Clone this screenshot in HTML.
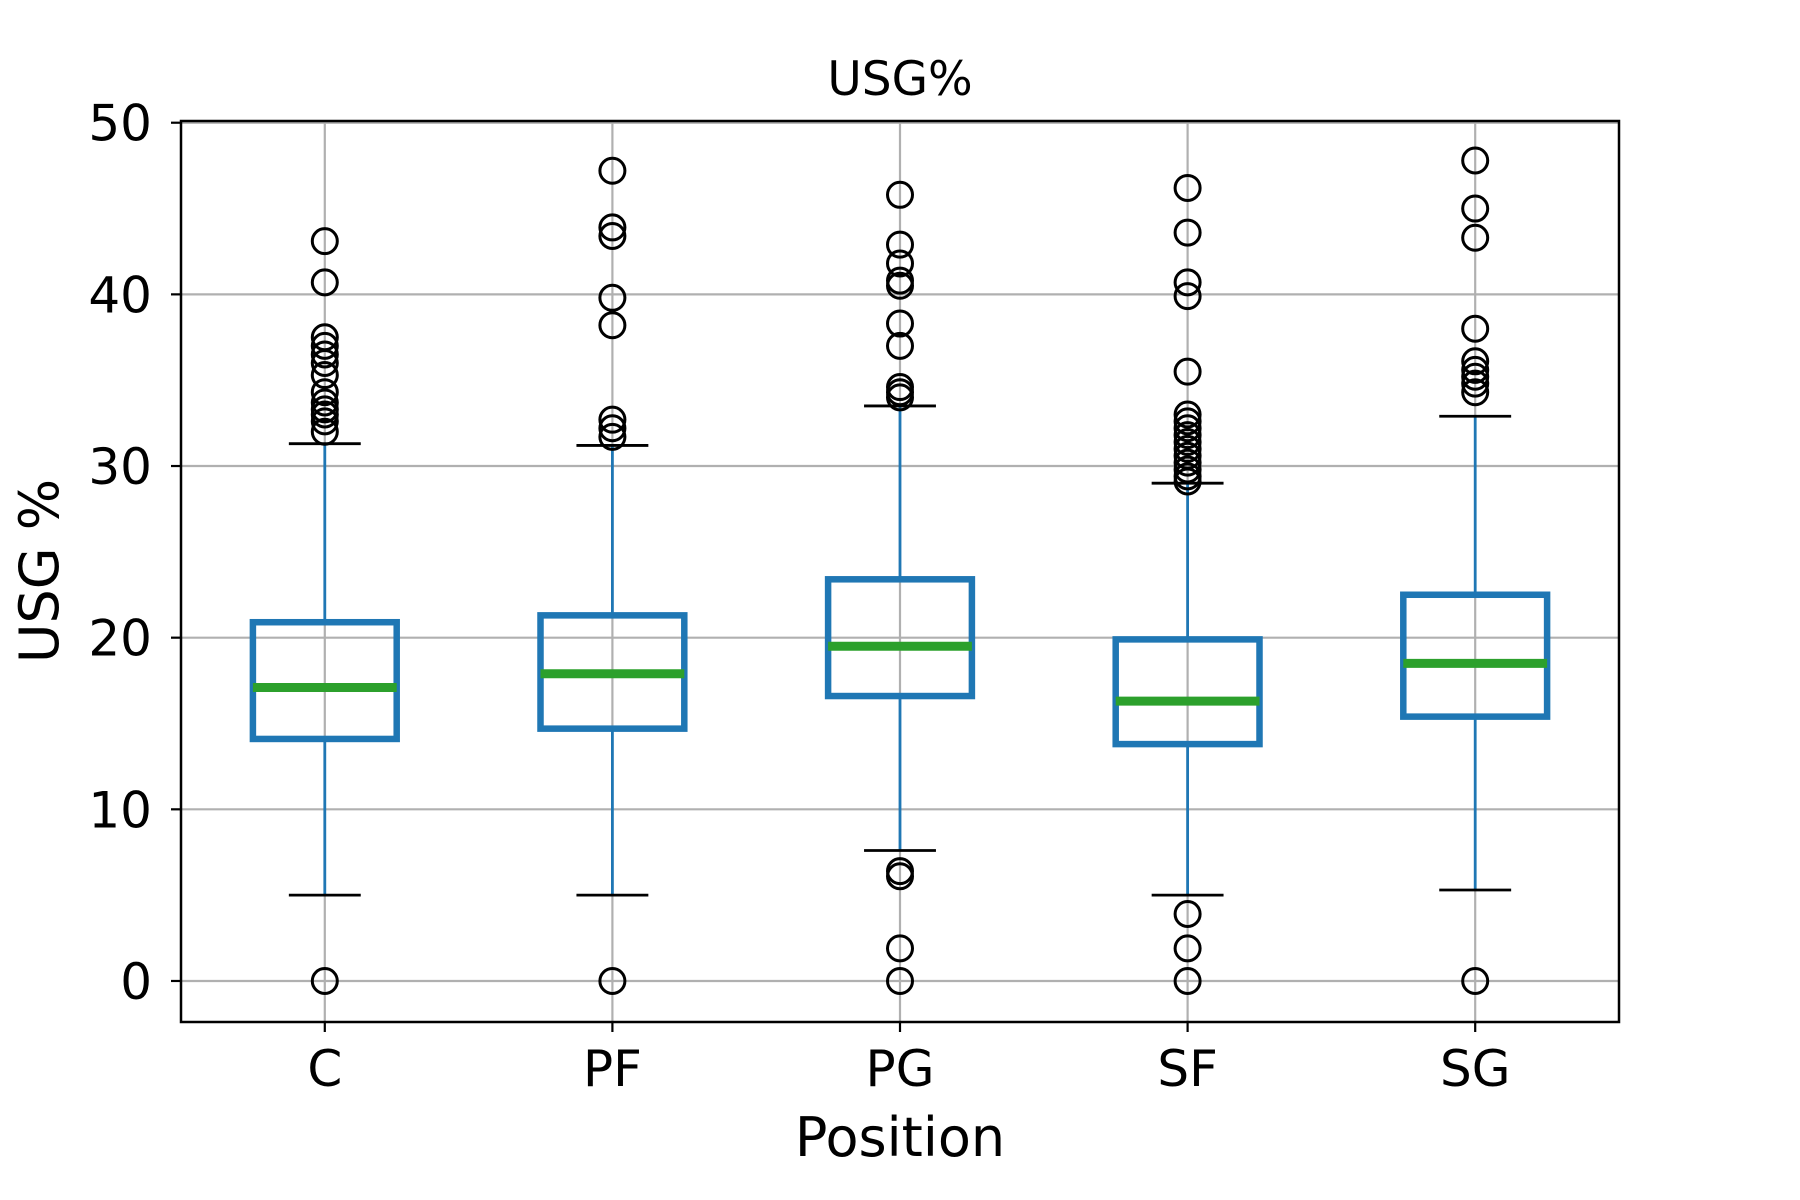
<!DOCTYPE html>
<html><head><meta charset="utf-8"><style>
html,body{margin:0;padding:0;background:#fff;}
svg{display:block;font-family:"DejaVu Sans","Liberation Sans",sans-serif;}
</style></head><body>
<svg id="chart" width="1800" height="1200" viewBox="0 0 1800 1200" xmlns="http://www.w3.org/2000/svg">
<rect width="1800" height="1200" fill="#fff"/>
<g id="grid"></g>
<g id="boxes"></g>
<g id="axes"></g>
<text x="900" y="95" font-size="47" text-anchor="middle">USG%</text>
<text x="900" y="1156" font-size="54" text-anchor="middle">Position</text>
<text transform="translate(58,571) rotate(-90)" font-size="54" text-anchor="middle">USG %</text>
</svg>
<script>
const categories = ["C","PF","PG","SF","SG"];
const q1Values = [14.1,14.7,16.6,13.8,15.4];
const medianValues = [17.1,17.9,19.5,16.3,18.5];
const q3Values = [20.9,21.3,23.4,19.9,22.5];
const whiskerLow = [5.0,5.0,7.6,5.0,5.3];
const whiskerHigh = [31.3,31.2,33.5,29.0,32.9];
const outliersC = [0,43.1,40.7,37.5,37.0,36.5,36.0,35.3,34.3,33.7,33.3,33.0,32.6,32.0];
const outliersPF = [0,47.2,43.9,43.4,39.8,38.2,32.7,32.2,31.7];
const outliersPG = [45.8,42.9,41.8,40.8,40.5,38.3,37.0,34.6,34.3,34.0,6.4,6.1,1.9,0];
const outliersSF = [46.2,43.6,40.7,39.9,35.5,33.0,32.6,32.2,31.8,31.4,31.0,30.6,30.2,29.8,29.4,29.1,3.9,1.9,0];
const outliersSG = [47.8,45.0,43.3,38.0,36.1,35.6,35.2,34.8,34.3,0];
const yTicks = [0,10,20,30,40,50];

const outliers = [outliersC,outliersPF,outliersPG,outliersSF,outliersSG];
const L=181,R=1619,T=121,B=1022;
const yMin=-2.39,yMax=50.1;
const NS="http://www.w3.org/2000/svg";
function xs(i){return L+(R-L)*((i+1)-0.5)/categories.length;}
function ys(v){return B-(B-T)*(v-yMin)/(yMax-yMin);}
function mk(tag,attrs,parent){const e=document.createElementNS(NS,tag);for(const k in attrs)e.setAttribute(k,attrs[k]);parent.appendChild(e);return e;}
const grid=document.getElementById('grid'),boxes=document.getElementById('boxes'),axes=document.getElementById('axes');
const step=(R-L)/categories.length;
yTicks.forEach(t=>{
  const y=ys(t);
  const g=mk('line',{x1:L,x2:R,y1:y,y2:y,stroke:'#b0b0b0','stroke-width':2.2},grid);
  
  
  const tk=mk('line',{x1:L-10,x2:L,y1:y,y2:y,stroke:'#000','stroke-width':2.2},axes);
  
  
  const tx=mk('text',{x:L-29,y:y+18,'font-size':50,'text-anchor':'end'},axes);
  tx.textContent=t;
  
  
});
categories.forEach((c,i)=>{
  const x=xs(i);
  const g=mk('line',{x1:x,x2:x,y1:T,y2:B,stroke:'#b0b0b0','stroke-width':2.2},grid);
  
  
  const tk=mk('line',{x1:x,x2:x,y1:B,y2:B+10,stroke:'#000','stroke-width':2.2},axes);
  
  
  const tx=mk('text',{x:x,y:B+64,'font-size':50,'text-anchor':'middle'},axes);
  tx.textContent=c;
  
  

  const grp=mk('g',{},boxes);
  
  
  const bw=step*0.25, cw=step*0.125;
  const w1=mk('line',{x1:x,x2:x,y1:ys(q1Values[i]),y2:ys(whiskerLow[i]),stroke:'#1f77b4','stroke-width':2.8},grp);
  
  
  const w2=mk('line',{x1:x,x2:x,y1:ys(q3Values[i]),y2:ys(whiskerHigh[i]),stroke:'#1f77b4','stroke-width':2.8},grp);
  
  
  [whiskerLow[i],whiskerHigh[i]].forEach(v=>{
    const cp=mk('line',{x1:x-cw,x2:x+cw,y1:ys(v),y2:ys(v),stroke:'#000','stroke-width':2.8},grp);
    
    
  });
  const rc=mk('rect',{x:x-bw,y:ys(q3Values[i]),width:2*bw,height:ys(q1Values[i])-ys(q3Values[i]),fill:'none',stroke:'#1f77b4','stroke-width':6.5},grp);
  
  
  const md=mk('line',{x1:x-bw,x2:x+bw,y1:ys(medianValues[i]),y2:ys(medianValues[i]),stroke:'#2ca02c','stroke-width':9},grp);
  
  
  outliers[i].forEach(v=>{
    const o=mk('circle',{cx:x,cy:ys(v),r:12.5,fill:'none',stroke:'#000','stroke-width':3},grp);
    
    
  });
});
const fr=mk('rect',{x:L,y:T,width:R-L,height:B-T,fill:'none',stroke:'#000','stroke-width':2.5},axes);


</script>
</body></html>
